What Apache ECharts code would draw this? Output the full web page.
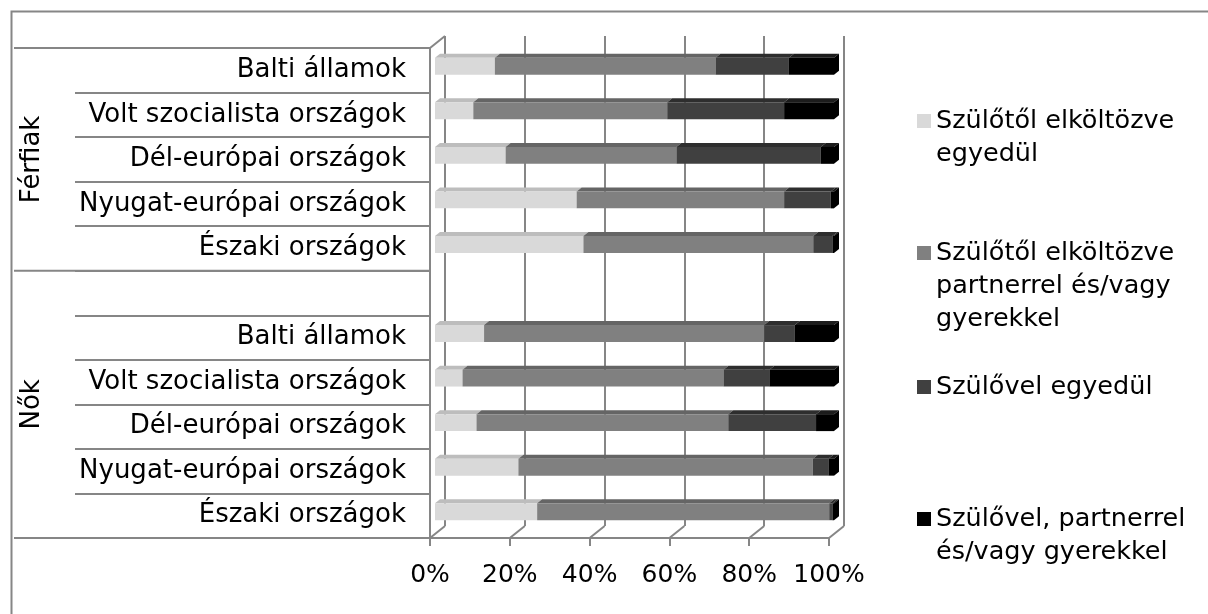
<!DOCTYPE html>
<html><head><meta charset="utf-8">
<script src="https://cdn.jsdelivr.net/npm/echarts@6/dist/echarts.min.js"></script>
<style>html,body{margin:0;padding:0;background:#fff}#c{width:1208px;height:614px}</style>
</head><body><div id="c"></div>
<script>
// ---- data ----
const categories = ['Balti államok','Volt szocialista országok','Dél-európai országok','Nyugat-európai országok','Északi országok','',
                    'Balti államok','Volt szocialista országok','Dél-európai országok','Nyugat-európai országok','Északi országok'];
const groupLabels = ['Férfiak','Nők'];
const groupStarts = [0, 5];          // first category index of each group
const seriesNames = ['Szülőtől elköltözve egyedül','Szülőtől elköltözve partnerrel és/vagy gyerekkel','Szülővel egyedül','Szülővel, partnerrel és/vagy gyerekkel'];
const legendLines = [['Szülőtől elköltözve','egyedül'],['Szülőtől elköltözve','partnerrel és/vagy','gyerekkel'],['Szülővel egyedül'],['Szülővel, partnerrel','és/vagy gyerekkel']];
const awayAlone   = [15.0, 9.6, 17.7, 35.5, 37.2, null, 12.3, 6.9, 10.4, 20.9, 25.6];
const awayPartner = [55.3, 48.6, 42.8, 52.0, 57.6, null, 70.2, 65.4, 63.1, 73.8, 73.2];
const homeAlone   = [18.4, 29.3, 36.2, 11.7, 4.8, null, 7.7, 11.5, 22.0, 3.9, 0.8];
const homePartner = [11.3, 12.5, 3.3, 0.8, 0.4, null, 9.8, 16.2, 4.5, 1.4, 0.4];
const xTicks = [0, 20, 40, 60, 80, 100];

// ---- styling ----
const FONT = 'DejaVu Sans';
const GRAY = '#868686';
const fronts = ['#d9d9d9','#808080','#404040','#000000'];
const tops   = ['#bdbdbd','#656565','#2e2e2e','#1c1c1c'];
const seriesValues = [awayAlone, awayPartner, homeAlone, homePartner];

// cumulative segments
const segData = seriesValues.map(() => []);
categories.forEach((c, i) => {
  let acc = 0;
  seriesValues.forEach((arr, s) => {
    const v = arr[i];
    if (v == null) return;
    segData[s].push([i, acc, acc + v]);
    acc += v;
  });
});

const OX = 5, OY = -4;   // bar front face offset from front plane
const DX = 5, DY = -4;   // bar depth
function segRender(s) {
  return function (params, api) {
    const cat = api.value(0);
    const p0 = api.coord([api.value(1), cat]);
    const p1 = api.coord([api.value(2), cat]);
    const h = api.size([0, 1])[1] * 0.38;
    const x0 = p0[0] + OX, x1 = p1[0] + OX;
    const yT = p0[1] + OY - h / 2, yB = p0[1] + OY + h / 2;
    const ch = [
      {type:'polygon', shape:{points:[[x0,yT],[x1,yT],[x1+DX,yT+DY],[x0+DX,yT+DY]]}, style:{fill:tops[s]}},
      {type:'rect', shape:{x:x0, y:yT, width:Math.max(0, x1-x0), height:yB-yT}, style:{fill:fronts[s]}}
    ];
    if (s === seriesValues.length - 1) {
      ch.push({type:'polygon', shape:{points:[[x1,yT],[x1+DX,yT+DY],[x1+DX,yB+DY],[x1,yB]]}, style:{fill:'#000'}});
    }
    return {type:'group', children: ch};
  };
}

function ln(x1, y1, x2, y2) {
  return {type:'line', shape:{x1, y1, x2, y2}, style:{stroke:GRAY, lineWidth:2}};
}

const series = seriesNames.map((name, s) => ({
  type:'custom', name, xAxisIndex:0, yAxisIndex:0, z:5,
  itemStyle:{color:fronts[s]},
  encode:{x:[1,2], y:0},
  data: segData[s],
  renderItem: segRender(s)
}));

series.unshift({
  type:'custom', name:'_walls', xAxisIndex:0, yAxisIndex:0, z:3, silent:true,
  encode:{x:0, y:1}, data:[[0, 0]],
  renderItem: function (params, api) {
    const cs = params.coordSys;
    const top = cs.y, bottom = cs.y + cs.height, left = cs.x;
    const band = api.size([0, 1])[1];
    const ch = [];
    xTicks.forEach(v => { const x = api.coord([v, 0])[0]; ch.push(ln(x, bottom, x + 15, bottom - 12)); });
    ch.push(ln(left, top, left + 15, top - 12));
    const bounds = groupStarts.concat([categories.length]);
    bounds.forEach(k => { const y = top + band * k; ch.push(ln(14, y, left, y)); });
    groupLabels.forEach((g, gi) => {
      const yc = top + band * (bounds[gi] + bounds[gi + 1]) / 2;
      ch.push({type:'text', x:32, y:yc, rotation:Math.PI/2,
        style:{text:g, fill:'#000', font:'26px "' + FONT + '"', align:'center', verticalAlign:'middle'}});
    });
    return {type:'group', children: ch};
  }
});

const markerCenters = [121, 253, 387, 519];
const legends = seriesNames.map((name, i) => {
  const lines = legendLines[i];
  const pad = lines.length - 1;
  const txt = '\n'.repeat(pad) + lines.join('\n');
  const total = lines.length + pad;
  return {
    data:[name], orient:'vertical', left:917, top: markerCenters[i] - total * 33 / 2,
    padding:0, icon:'rect', itemWidth:14, itemHeight:14, selectedMode:false,
    formatter: () => txt,
    textStyle:{fontFamily:FONT, fontSize:25.5, lineHeight:33, color:'#000'}
  };
});

const chart = echarts.init(document.getElementById('c'), null, {renderer:'canvas'});
chart.setOption({
  animation:false,
  backgroundColor:'#fff',
  graphic:[{type:'rect', left:9, top:9, shape:{width:1260, height:700}, style:{fill:null, stroke:GRAY, lineWidth:2}, silent:true}],
  grid:[
    {left:430, right:379, top:48, bottom:76},
    {left:445, right:364, top:36, bottom:88}
  ],
  xAxis:[
    {type:'value', gridIndex:0, min:0, max:100, interval:20,
     axisLine:{show:true, lineStyle:{color:GRAY, width:2}},
     axisTick:{show:true, length:8, lineStyle:{color:GRAY, width:2}},
     splitLine:{show:false},
     axisLabel:{formatter:'{value}%', color:'#000', fontFamily:FONT, fontSize:25, margin:25}},
    {type:'value', gridIndex:1, min:0, max:100, interval:20,
     axisLine:{show:false}, axisTick:{show:false}, axisLabel:{show:false},
     splitLine:{show:true, lineStyle:{color:GRAY, width:2}}}
  ],
  yAxis:[
    {type:'category', gridIndex:0, inverse:true, data:categories,
     axisLine:{show:true, lineStyle:{color:GRAY, width:2}},
     axisTick:{show:true, length:355, lineStyle:{color:GRAY, width:2}},
     axisLabel:{color:'#000', fontFamily:FONT, fontSize:26, margin:24}},
    {type:'value', gridIndex:1, show:false, min:0, max:1}
  ],
  legend: legends,
  series: series
});
</script>
</body></html>
